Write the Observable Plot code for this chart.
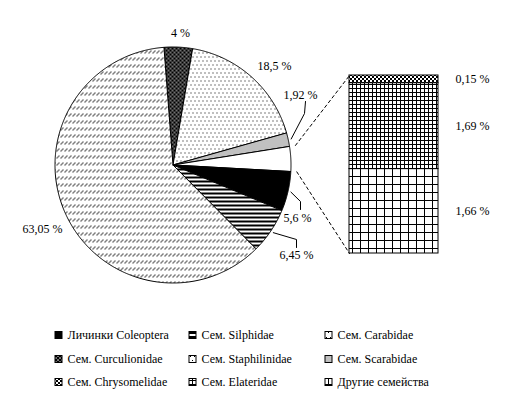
<!DOCTYPE html>
<html><head><meta charset="utf-8">
<script src="https://cdn.jsdelivr.net/npm/d3@7"></script>
<script src="https://cdn.jsdelivr.net/npm/@observablehq/plot@0.6"></script>
<style>body{margin:0;background:#fff}</style>
</head><body><div id="chart"></div>
<script>
// ---- data ----
const OTHER = "Другие (группа)";
const pieNames  = ["Сем. Curculionidae", "Сем. Staphilinidae", "Сем. Scarabidae", OTHER, "Личинки Coleoptera", "Сем. Silphidae", "Сем. Carabidae"];
const pieValues = [4, 18.5, 1.92, null, 5.6, 6.45, 63.05];
const pieLabels = ["4 %", "18,5 %", "1,92 %", null, "5,6 %", "6,45 %", "63,05 %"];
const barNames  = ["Другие семейства", "Сем. Elateridae", "Сем. Chrysomelidae"]; // bottom to top
const barValues = [1.66, 1.69, 0.15];
const barLabels = ["1,66 %", "1,69 %", "0,15 %"];
const legendNames = ["Личинки Coleoptera", "Сем. Silphidae", "Сем. Carabidae",
  "Сем. Curculionidae", "Сем. Staphilinidae", "Сем. Scarabidae",
  "Сем. Chrysomelidae", "Сем. Elateridae", "Другие семейства"];

// ---- styles (pattern ids) ----
const fills = {
  "Личинки Coleoptera": "black",
  "Сем. Silphidae": "url(#p-hstripe)",
  "Сем. Carabidae": "url(#p-hatch)",
  "Сем. Curculionidae": "url(#p-circ)",
  "Сем. Staphilinidae": "url(#p-dots)",
  "Сем. Scarabidae": "#c0c0c0",
  "Сем. Chrysomelidae": "url(#p-check)",
  "Сем. Elateridae": "url(#p-grid4)",
  "Другие семейства": "url(#p-grid8)",
  [OTHER]: "white"
};

// ---- layout ----
const W = 509, H = 399;
const cx = 172.5, cy = 164.5, R = 118;
const start = -4.4 * Math.PI / 180;
const bar = {x1: 349, x2: 438, top: 75, bottom: 253};
const font = "'Liberation Serif','Times New Roman',serif";

const otherValue = d3.sum(barValues);
const pieData = pieNames.map((n, i) => ({name: n, value: n === OTHER ? otherValue : pieValues[i], label: pieLabels[i]}));
const arcs = d3.pie().sort(null).value(d => d.value).startAngle(start).endAngle(start + 2 * Math.PI)(pieData);
const pt = (a, r) => ({x: cx + r * Math.sin(a), y: cy - r * Math.cos(a)});

function slicePoints(a0, a1) {
  const n = Math.max(2, Math.ceil((a1 - a0) / (Math.PI / 360)));
  const pts = [{x: cx, y: cy}];
  for (let k = 0; k <= n; k++) pts.push(pt(a0 + (a1 - a0) * k / n, R));
  pts.push({x: cx, y: cy});
  return pts;
}

// label placement (annotation layout)
const labelPos = {
  "Сем. Curculionidae": {x: 180, y: 33, anchor: "middle"},
  "Сем. Staphilinidae": {x: 274, y: 66, anchor: "middle"},
  "Сем. Scarabidae": {x: 300, y: 95, anchor: "middle", elbow: [304, 113], from: [305, 101]},
  "Личинки Coleoptera": {x: 297, y: 218, anchor: "middle", elbow: [300, 201], from: [300, 209]},
  "Сем. Silphidae": {x: 296, y: 255, anchor: "middle", elbow: [296, 239], from: [296, 247]},
  "Сем. Carabidae": {x: 42, y: 229, anchor: "middle"}
};

const barScale = d3.scaleLinear([0, otherValue], [bar.bottom, bar.top]);
const cum = d3.cumsum(barValues);
const barData = barNames.map((n, i) => ({name: n, v0: cum[i] - barValues[i], v1: cum[i], label: barLabels[i]}));

const marks = [];
// pie slices
for (const a of arcs) {
  marks.push(Plot.line(slicePoints(a.startAngle, a.endAngle), {x: "x", y: "y", fill: fills[a.data.name], stroke: "black", strokeWidth: 1}));
}
// pie labels and leaders
const pieLabelData = arcs.filter(a => a.data.label).map(a => ({...labelPos[a.data.name], text: a.data.label, mid: (a.startAngle + a.endAngle) / 2}));
for (const d of pieLabelData) {
  if (d.elbow) {
    const e = pt(d.mid, R + 3);
    marks.push(Plot.line([{x: d.from[0], y: d.from[1]}, {x: d.elbow[0], y: d.elbow[1]}, e], {x: "x", y: "y", stroke: "black", strokeWidth: 1}));
  }
}
marks.push(Plot.text(pieLabelData, {x: "x", y: "y", text: "text", textAnchor: "middle", fontSize: 12, fill: "black"}));

// connectors from the "other" slice to the bar
const oa = arcs.find(a => a.data.name === OTHER);
const c0 = pt(oa.startAngle, R + 6), c1 = pt(oa.endAngle, R + 6);
marks.push(Plot.line([c0, {x: bar.x1, y: barScale(otherValue)}], {x: "x", y: "y", stroke: "black", strokeWidth: 1, strokeDasharray: "3,3"}));
marks.push(Plot.line([c1, {x: bar.x1, y: barScale(0)}], {x: "x", y: "y", stroke: "black", strokeWidth: 1, strokeDasharray: "3,3"}));

// bar segments
for (const d of barData) {
  marks.push(Plot.rect([d], {x1: () => bar.x1, x2: () => bar.x2, y1: d => barScale(d.v0), y2: d => barScale(d.v1), fill: fills[d.name], stroke: "black", strokeWidth: 1}));
}
marks.push(Plot.text(barData, {x: () => bar.x2 + 17, y: d => barScale((d.v0 + d.v1) / 2), text: "label", textAnchor: "start", fontSize: 12, fill: "black"}));

// legend
const colX = [55, 189, 325], rowY = [335, 359, 382];
const legendData = legendNames.map((n, i) => ({name: n, x: colX[i % 3], y: rowY[Math.floor(i / 3)]}));
for (const d of legendData) {
  marks.push(Plot.rect([d], {x1: d => d.x, x2: d => d.x + 7, y1: d => d.y - 3.5, y2: d => d.y + 3.5, fill: fills[d.name], stroke: "black", strokeWidth: 1}));
}
marks.push(Plot.text(legendData, {x: d => d.x + 12, y: "y", text: "name", textAnchor: "start", fontSize: 12, fill: "black"}));

const svg = Plot.plot({
  width: W, height: H, margin: 0,
  x: {domain: [0, W], range: [0, W], axis: null},
  y: {domain: [0, H], range: [0, H], axis: null},
  style: {fontFamily: font, fontSize: "12px", background: "white", overflow: "visible"},
  marks
});

const defs = document.createElementNS("http://www.w3.org/2000/svg", "defs");
defs.innerHTML = `
<pattern id="p-hstripe" patternUnits="userSpaceOnUse" width="4" height="4"><rect width="4" height="4" fill="white"/><rect y="0" width="4" height="2" fill="black"/></pattern>
<pattern id="p-hatch" patternUnits="userSpaceOnUse" width="4" height="7"><rect width="4" height="7" fill="white"/><rect x="0" y="3" width="1" height="1" fill="black"/><rect x="1" y="2" width="1" height="1" fill="black"/><rect x="2" y="1" width="1" height="1" fill="black"/></pattern>
<pattern id="p-circ" patternUnits="userSpaceOnUse" width="4" height="4"><rect width="4" height="4" fill="white"/><circle cx="0" cy="0" r="1.5" fill="black"/><circle cx="4" cy="0" r="1.5" fill="black"/><circle cx="0" cy="4" r="1.5" fill="black"/><circle cx="4" cy="4" r="1.5" fill="black"/><circle cx="2" cy="2" r="1.5" fill="black"/></pattern>
<pattern id="p-dots" patternUnits="userSpaceOnUse" width="4" height="8"><rect width="4" height="8" fill="white"/><rect x="0" y="0" width="1" height="1" fill="black"/><rect x="2" y="4" width="1" height="1" fill="black"/></pattern>
<pattern id="p-check" patternUnits="userSpaceOnUse" width="4" height="4"><rect width="4" height="4" fill="white"/><rect x="0" y="0" width="2" height="2" fill="black"/><rect x="2" y="2" width="2" height="2" fill="black"/></pattern>
<pattern id="p-grid4" patternUnits="userSpaceOnUse" width="4" height="4"><rect width="4" height="4" fill="white"/><rect x="0" y="0" width="4" height="1" fill="black"/><rect x="0" y="0" width="1" height="4" fill="black"/></pattern>
<pattern id="p-grid8" patternUnits="userSpaceOnUse" width="8" height="8"><rect width="8" height="8" fill="white"/><rect x="0" y="0" width="8" height="1" fill="black"/><rect x="0" y="0" width="1" height="8" fill="black"/></pattern>`;
svg.insertBefore(defs, svg.firstChild);
document.getElementById("chart").appendChild(svg);
</script>
</body></html>
